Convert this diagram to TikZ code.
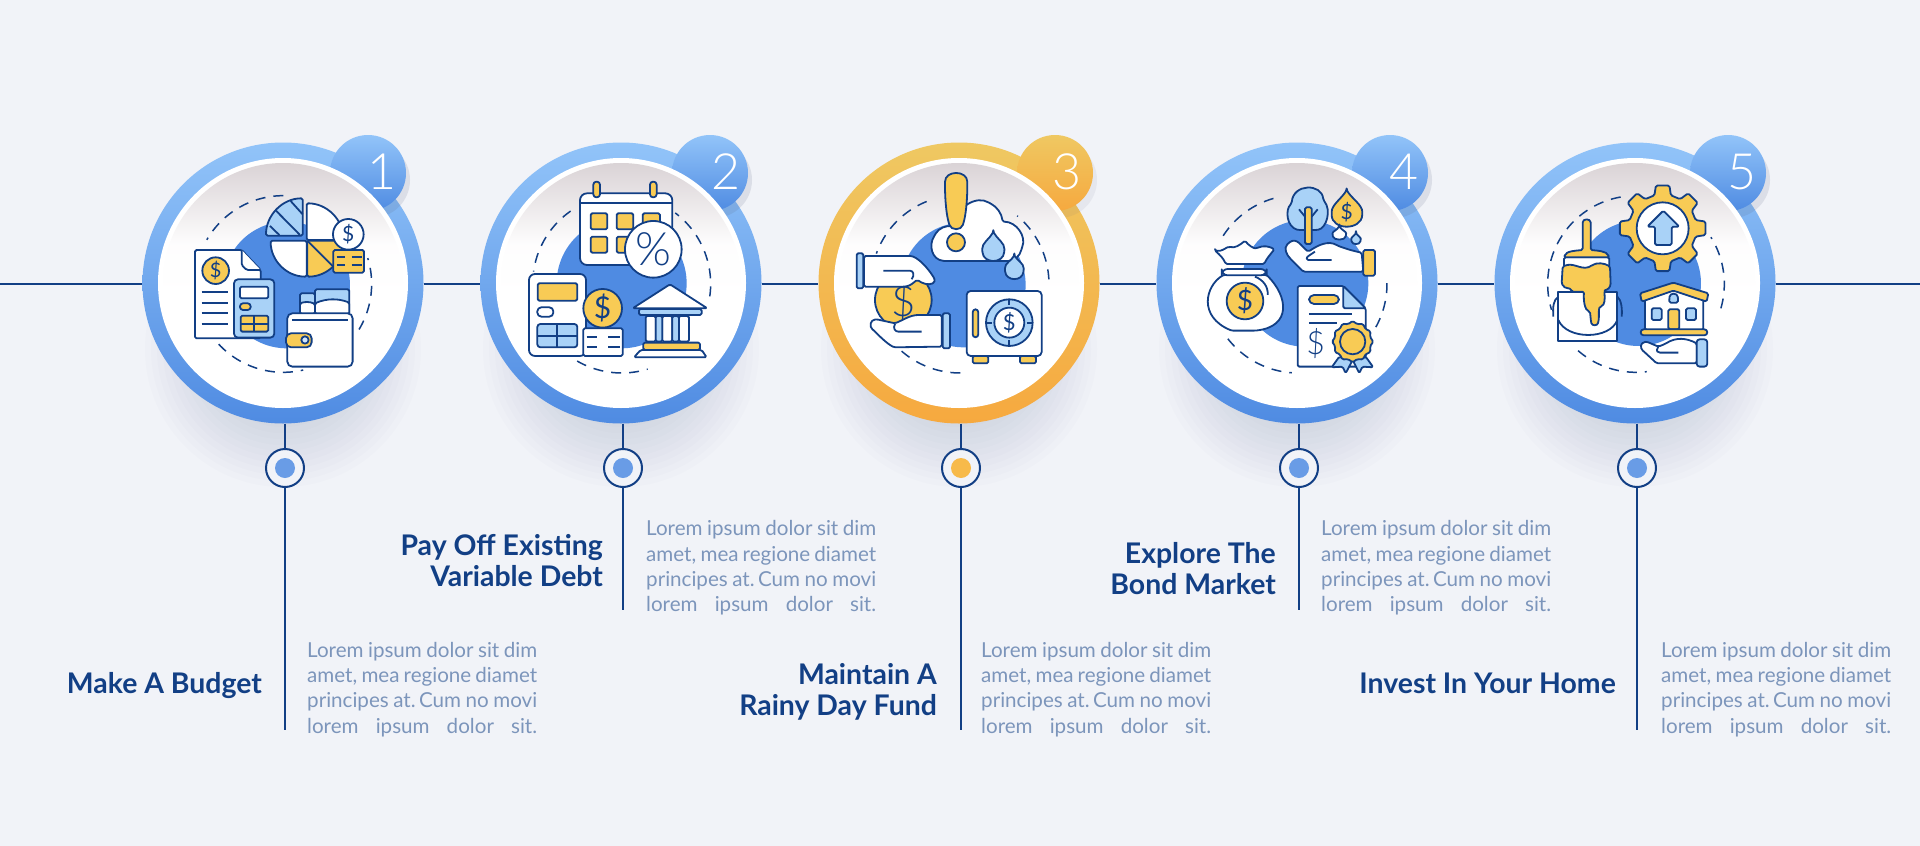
\documentclass[tikz,border=0pt]{standalone}
\usepackage{fontspec}
\setmainfont{Lato}
\newfontfamily\thinfont{Lato Light}
\usetikzlibrary{positioning}
\definecolor{pagebg}{HTML}{F1F3F8}
\definecolor{navy}{HTML}{123F85}
\definecolor{bluetop}{HTML}{92C4F9}
\definecolor{bluebot}{HTML}{4F8BE2}
\definecolor{goldtop}{HTML}{EFC862}
\definecolor{goldbot}{HTML}{F6A93F}
\definecolor{discgrey}{HTML}{DAD3D6}
\definecolor{icoyellow}{HTML}{F8CB55}
\definecolor{icoblue}{HTML}{A9D2F7}
\definecolor{parablue}{HTML}{7C95BB}
\definecolor{shadowgrey}{HTML}{5A6580}
\pgfdeclareverticalshading{discshade}{100bp}{color(0bp)=(white); color(25bp)=(white); color(46bp)=(white); color(58bp)=(white!96!discgrey); color(75bp)=(discgrey); color(100bp)=(discgrey)}
\tikzset{
    x=1pt, y=-1pt,
    node distance=338pt, % distance between the rings
    ringblue/.style={circle, inner sep=0pt, minimum size=281pt, top color=bluetop, bottom color=bluebot},
    ringgold/.style={circle, inner sep=0pt, minimum size=281pt, top color=goldtop, bottom color=goldbot},
    badgeblue/.style={circle, inner sep=0pt, minimum size=76pt, top color=bluetop, bottom color=bluebot},
    badgegold/.style={circle, inner sep=0pt, minimum size=76pt, top color=goldtop, bottom color=goldbot},
    discwhite/.style={circle, inner sep=0pt, minimum size=250pt, fill=white},
    discinner/.style={circle, inner sep=0pt, minimum size=240pt, shading=discshade},
    digit/.style={text=white, inner sep=0pt, font=\thinfont\fontsize{50}{50}\selectfont},
    stemdot/.style={circle, inner sep=0pt, minimum size=38pt, draw=navy, line width=2pt, fill=pagebg, xshift=2pt},
    stemline/.style={draw=navy, line width=2pt},
    headbox/.style={anchor=east, align=right, inner sep=0pt, text=navy, font=\bfseries\fontsize{28.4}{31}\selectfont},
    parabox/.style={anchor=west, align=left, inner sep=0pt, text=parablue, font=\fontsize{20.6}{25.3}\selectfont},
    zoomed/.style={shift={#1}, x=.3333pt, y=-.3333pt, draw=navy, line width=1.8pt, line join=round, rounded corners=1.5pt},
    dashring/.style={draw=navy, line width=1.5pt, dash pattern=on 10pt off 8pt, rounded corners=0pt},
    dollarmark/.style={text=navy, inner sep=0pt},
    yellowpart/.style={fill=icoyellow},
    bluepart/.style={fill=icoblue},
    whitepart/.style={fill=white},
}
\newcommand{\lorempara}{%
    \frenchspacing
    \makebox[230pt][s]{Lorem ipsum dolor sit dim}\\
    \makebox[230pt][s]{amet, mea regione diamet}\\
    \makebox[230pt][s]{principes at.\kern-1.2pt\ Cum no movi}\\
    \makebox[230pt][s]{lorem ipsum dolor sit.}}
\newcommand{\ringshadow}[1]{%
    \foreach \r in {78,84,...,138} {\fill[shadowgrey, opacity=.014] (#1) ++(0,66) circle (\r);}}
\newcommand{\dasharc}[5]{\draw[dashring] plot[domain=#4:#5, samples=40] ({#1+#3*cos(\x)},{#2-#3*sin(\x)});}
\newcommand{\coinmark}[5]{%
    \draw[fill=#4] (#2) circle (#3);
    \node[dollarmark, font=\fontsize{#5}{#5}\selectfont] (#1) at (#2) {\$};}
\begin{document}
\begin{tikzpicture}
    \useasboundingbox (0,0) rectangle (1920,846);
    \fill[pagebg] (0,0) rectangle (1920,846);

    \coordinate (c1) at (283,283);
    \coordinate[right of=c1] (c2);
    \coordinate[right of=c2] (c3);
    \coordinate[right of=c3] (c4);
    \coordinate[right of=c4] (c5);
    \coordinate (lineL) at (0,284);
    \coordinate (lineR) at (1920,284);
    \ringshadow{c1} \ringshadow{c2} \ringshadow{c3} \ringshadow{c4} \ringshadow{c5}

    \node[ringblue] (ring1) at (c1) {};
    \node[ringblue] (ring2) at (c2) {};
    \node[ringgold] (ring3) at (c3) {};
    \node[ringblue] (ring4) at (c4) {};
    \node[ringblue] (ring5) at (c5) {};

    \fill[shadowgrey, opacity=.14] (372,180) circle (38);
    \fill[shadowgrey, opacity=.14] (714,180) circle (38);
    \fill[shadowgrey, opacity=.08] (1059,180) circle (38);
    \fill[shadowgrey, opacity=.14] (1394,180) circle (38);
    \fill[shadowgrey, opacity=.14] (1732,180) circle (38);
    \node[badgeblue] (badge1) at (368,173) {};
    \node[badgeblue] (badge2) at (710,173) {};
    \node[badgegold] (badge3) at (1055,173) {};
    \node[badgeblue] (badge4) at (1390,173) {};
    \node[badgeblue] (badge5) at (1728,173) {};

    \node[discwhite] (disc1) at (c1) {};
    \node[discwhite] (disc2) at (c2) {};
    \node[discwhite] (disc3) at (c3) {};
    \node[discwhite] (disc4) at (c4) {};
    \node[discwhite] (disc5) at (c5) {};
    \node[discinner] (inner1) at (c1) {};
    \node[discinner] (inner2) at (c2) {};
    \node[discinner] (inner3) at (c3) {};
    \node[discinner] (inner4) at (c4) {};
    \node[discinner] (inner5) at (c5) {};

    \node[digit] (num1) at (382,172) {1};
    \node[digit] (num2) at (726,172) {2};
    \node[digit] (num3) at (1067,172) {3};
    \node[digit] (num4) at (1404,172) {4};
    \node[digit] (num5) at (1742,172) {5};

    \draw[stemline] (lineL) -- (ring1.west |- lineL);
    \draw[stemline] (ring1.east |- lineL) -- (ring2.west |- lineL);
    \draw[stemline] (ring2.east |- lineL) -- (ring3.west |- lineL);
    \draw[stemline] (ring3.east |- lineL) -- (ring4.west |- lineL);
    \draw[stemline] (ring4.east |- lineL) -- (ring5.west |- lineL);
    \draw[stemline] (ring5.east |- lineL) -- (lineR);

    \node[stemdot, below of=c1, node distance=185pt] (dot1) {};
    \node[stemdot, below of=c2, node distance=185pt] (dot2) {};
    \node[stemdot, below of=c3, node distance=185pt] (dot3) {};
    \node[stemdot, below of=c4, node distance=185pt] (dot4) {};
    \node[stemdot, below of=c5, node distance=185pt] (dot5) {};
    \fill[bluebot!85!white] (dot1) circle (10);
    \fill[bluebot!85!white] (dot2) circle (10);
    \fill[goldbot!50!icoyellow] (dot3) circle (10);
    \fill[bluebot!85!white] (dot4) circle (10);
    \fill[bluebot!85!white] (dot5) circle (10);
    \coordinate[below of=dot1, node distance=262pt] (end1);
    \coordinate[below of=dot2, node distance=142pt] (end2);
    \coordinate[below of=dot3, node distance=262pt] (end3);
    \coordinate[below of=dot4, node distance=142pt] (end4);
    \coordinate[below of=dot5, node distance=262pt] (end5);
    \draw[stemline] (dot1.north |- ring1.south) -- (dot1.north) (dot1.south) -- (end1);
    \draw[stemline] (dot2.north |- ring2.south) -- (dot2.north) (dot2.south) -- (end2);
    \draw[stemline] (dot3.north |- ring3.south) -- (dot3.north) (dot3.south) -- (end3);
    \draw[stemline] (dot4.north |- ring4.south) -- (dot4.north) (dot4.south) -- (end4);
    \draw[stemline] (dot5.north |- ring5.south) -- (dot5.north) (dot5.south) -- (end5);

    \node[headbox] (title1) at (262,686) {Make A Budget};
    \node[headbox] (title2) at (603,561) {Pay Off Existing\\Variable Debt};
    \node[headbox] (title3) at (937,692) {Maintain A\\Rainy Day Fund};
    \node[headbox] (title4) at (1276,569) {Explore The\\Bond Market};
    \node[headbox] (title5) at (1616,683) {Invest In Your Home};
    \node[parabox] (text1) at (307,689.5) {\lorempara};
    \node[parabox] (text2) at (646,568) {\lorempara};
    \node[parabox] (text3) at (981,689.5) {\lorempara};
    \node[parabox] (text4) at (1321,568) {\lorempara};
    \node[parabox] (text5) at (1661,689.5) {\lorempara};

    % budget
    \begin{scope}[zoomed={(120,120)}]
        \fill[bluebot] (500,495) circle (190);
        \dasharc{490}{492}{265}{90}{150}
        \dasharc{490}{492}{265}{223}{283}
        \dasharc{490}{492}{265}{329}{377}
        \draw[whitepart] (560,250) .. controls (621,250) and (670,299) .. (670,360) -- (560,360) -- cycle;
        \draw[whitepart] (452,362) .. controls (452,422) and (500,470) .. (560,470) -- (560,362) -- cycle;
        \draw[yellowpart] (562,362) -- (672,362) .. controls (672,422) and (622,470) .. (562,470) -- cycle;
        \draw (565,365) -- (640,440);
        \draw[bluepart] (438,347) .. controls (438,286) and (487,235) .. (548,235) -- (548,347) -- cycle;
        \draw (450,318) -- (478,345) (468,272) -- (540,345) (512,243) -- (548,283);
        \coinmark{usd1a}{685,343}{46}{white}{21}
        \draw[yellowpart] (640,390) rectangle (732,458);
        \draw (650,412) -- (675,412) (695,412) -- (725,412) (650,436) -- (675,436) (695,436) -- (725,436);
        \draw[whitepart] (225,390) -- (365,390) -- (422,450) -- (422,655) -- (225,655) -- cycle;
        \draw[whitepart] (365,390) -- (365,435) -- (380,450) -- (422,450);
        \coinmark{usd1b}{287,452}{40}{icoyellow}{20}
        \draw (245,515) -- (325,515) (245,548) -- (325,548) (245,580) -- (325,580) (245,613) -- (325,613);
        \draw[bluepart, rounded corners=4pt] (342,478) rectangle (463,653);
        \draw[whitepart] (360,500) rectangle (445,535);
        \draw[yellowpart, rounded corners=3pt] (360,550) rectangle (392,570);
        \draw[yellowpart] (362,587) rectangle (445,635);
        \draw (403,587) -- (403,635) (362,611) -- (445,611);
        \draw[bluepart] (540,520) rectangle (585,582);
        \draw[whitepart] (540,550) .. controls (555,545) and (570,545) .. (585,552) -- (585,582) -- (540,582) -- cycle;
        \draw[bluepart] (585,508) rectangle (688,582);
        \draw[whitepart] (585,550) .. controls (620,535) and (655,535) .. (688,548) -- (688,582) -- (585,582) -- cycle;
        \draw[whitepart, rounded corners=5pt] (502,580) rectangle (698,740);
        \draw (517,601) -- (683,601);
        \draw[yellowpart, rounded corners=5pt] (498,640) rectangle (575,682);
        \draw[fill=icoblue!50!white] (555,660) circle (11);
    \end{scope}

    % debt
    \begin{scope}[zoomed={(480,120)}]
        \fill[bluebot] (425,490) circle (195);
        \dasharc{425}{492}{267}{125}{172}
        \dasharc{425}{492}{267}{240}{287}
        \dasharc{425}{492}{267}{-8}{53}
        \draw[whitepart, rounded corners=7pt] (300,220) rectangle (577,435);
        \draw[yellowpart, rounded corners=3pt] (340,185) rectangle (360,232);
        \draw[yellowpart, rounded corners=3pt] (510,185) rectangle (530,232);
        \draw (300,250) -- (577,250);
        \draw[yellowpart] (332,280) rectangle (382,328);
        \draw[yellowpart] (410,280) rectangle (460,328);
        \draw[yellowpart] (488,280) rectangle (540,328);
        \draw[yellowpart] (332,350) rectangle (382,398);
        \draw[yellowpart] (410,350) rectangle (460,398);
        \draw[whitepart] (520,388) circle (85);
        \node[dollarmark, font=\thinfont\fontsize{46}{46}\selectfont] (pct2) at (520,388) {\%};
        \draw[whitepart, rounded corners=6pt] (147,462) rectangle (318,708);
        \draw[yellowpart] (173,490) rectangle (292,542);
        \draw[whitepart, rounded corners=4pt] (172,562) rectangle (220,590);
        \draw[bluepart, rounded corners=3pt] (172,612) rectangle (292,682);
        \draw (232,612) -- (232,682) (172,648) -- (292,648);
        \draw[whitepart] (310,625) rectangle (428,708);
        \draw (320,652) -- (352,652) (385,652) -- (420,652) (320,680) -- (352,680) (385,680) -- (420,680);
        \coinmark{usd2}{368,565}{58}{icoyellow}{30}
        \draw[whitepart] (570,493) -- (682,565) -- (458,565) -- cycle;
        \draw[bluepart] (477,567) rectangle (665,585);
        \draw[whitepart] (497,588) rectangle (527,665);
        \draw[whitepart] (547,588) rectangle (577,665);
        \draw[whitepart] (597,588) rectangle (627,665);
        \draw[bluepart] (527,588) rectangle (547,665);
        \draw[bluepart] (577,588) rectangle (597,665);
        \draw[yellowpart] (490,668) rectangle (660,690);
        \draw[whitepart] (482,690) -- (665,690) -- (680,712) -- (462,712) -- cycle;
    \end{scope}

    % rainy day
    \begin{scope}[zoomed={(820,120)}]
        \fill[bluebot] (430,495) circle (187);
        \dasharc{420}{492}{267}{112}{160}
        \dasharc{420}{492}{267}{229}{275}
        \dasharc{420}{492}{267}{3}{50}
        \draw[whitepart] (470,423) -- (375,423) .. controls (335,420) and (325,375) .. (345,345) .. controls (355,325) and (380,315) .. (400,320) .. controls (410,260) and (470,225) .. (510,250) .. controls (530,260) and (545,280) .. (548,305) .. controls (590,305) and (620,350) .. (605,385) .. controls (600,410) and (580,423) .. (560,423) -- cycle;
        \draw[yellowpart] (375,190) .. controls (375,150) and (442,150) .. (442,190) .. controls (442,250) and (436,290) .. (430,310) .. controls (424,332) and (393,332) .. (387,310) .. controls (381,290) and (375,250) .. (375,190) -- cycle;
        \draw[yellowpart] (408,367) circle (27);
        \draw[bluepart] (520,335) .. controls (530,355) and (555,370) .. (553,392) .. controls (550,432) and (490,432) .. (487,392) .. controls (485,370) and (510,355) .. (520,335) -- cycle;
        \draw[bluepart] (583,405) .. controls (590,420) and (612,430) .. (611,450) .. controls (608,485) and (558,485) .. (555,450) .. controls (554,430) and (576,420) .. (583,405) -- cycle;
        \draw[fill=icoyellow] (250,540) circle (85);
        \node[dollarmark, font=\thinfont\fontsize{42}{42}\selectfont] (usd3a) at (250,545) {\$};
        \draw[bluepart] (110,400) -- (130,400) -- (130,505) -- (110,505) -- cycle;
        \draw[whitepart] (132,408) -- (275,408) .. controls (305,420) and (335,460) .. (345,480) .. controls (340,495) and (318,495) .. (300,485) .. controls (285,475) and (280,500) .. (245,500) -- (132,500) -- cycle;
        \draw (190,452) -- (265,452) .. controls (280,452) and (285,465) .. (275,478);
        \draw[bluepart] (368,580) -- (390,580) -- (390,685) -- (368,685) -- cycle;
        \draw[whitepart] (365,585) -- (300,585) .. controls (270,585) and (250,600) .. (225,610) -- (170,598) .. controls (150,600) and (148,620) .. (160,630) .. controls (180,650) and (200,670) .. (222,682) -- (365,680) -- cycle;
        \draw (225,612) .. controls (218,625) and (225,635) .. (240,635) -- (305,635);
        \draw[yellowpart] (458,708) rectangle (505,730);
        \draw[yellowpart] (600,708) rectangle (648,730);
        \draw[whitepart, rounded corners=4pt] (440,513) rectangle (665,708);
        \draw[yellowpart, rounded corners=3pt] (458,568) rectangle (475,652);
        \draw[bluepart] (568,608) circle (70);
        \draw (568,538) -- (568,555) (568,661) -- (568,678) (498,608) -- (515,608) (621,608) -- (638,608);
        \coinmark{usd3b}{568,608}{45}{white}{22}
    \end{scope}

    % bond market
    \begin{scope}[zoomed={(1155,120)}]
        \fill[bluebot] (450,490) circle (190);
        \dasharc{429}{492}{267}{106}{152}
        \dasharc{429}{492}{267}{218}{266}
        \dasharc{429}{492}{267}{-29}{5}
        \draw[bluepart] (430,330) .. controls (395,320) and (390,270) .. (410,250) .. controls (415,190) and (500,190) .. (505,240) .. controls (530,270) and (515,325) .. (485,330) -- cycle;
        \draw (470,290) -- (488,268) (450,290) -- (432,268);
        \draw[yellowpart] (450,262) rectangle (470,372);
        \draw[yellowpart] (575,210) .. controls (590,235) and (622,255) .. (622,280) .. controls (620,332) and (530,332) .. (530,280) .. controls (530,255) and (560,235) .. (575,210) -- cycle;
        \node[dollarmark, font=\fontsize{21}{21}\selectfont] (usd4a) at (575,275) {\$};
        \draw[whitepart] (553,318) .. controls (560,330) and (574,335) .. (573,345) .. controls (570,362) and (536,362) .. (533,345) .. controls (532,335) and (546,330) .. (553,318) -- cycle;
        \draw[bluepart] (603,338) .. controls (608,348) and (618,352) .. (617,360) .. controls (614,375) and (592,375) .. (589,360) .. controls (588,352) and (598,348) .. (603,338) -- cycle;
        \draw[whitepart] (620,398) .. controls (590,392) and (570,385) .. (550,378) .. controls (520,360) and (490,375) .. (460,395) .. controls (440,380) and (425,350) .. (400,370) .. controls (385,385) and (395,405) .. (410,420) -- (445,455) -- (625,455) -- cycle;
        \draw (480,395) .. controls (465,405) and (455,410) .. (455,420) -- (530,420);
        \draw[yellowpart] (625,390) rectangle (660,467);
        \draw[whitepart] (205,465) .. controls (150,500) and (130,590) .. (230,632) -- (300,632) .. controls (410,620) and (400,530) .. (335,465) -- cycle;
        \draw[whitepart] (180,392) .. controls (200,395) and (210,385) .. (222,380) .. controls (240,385) and (255,375) .. (270,362) .. controls (280,375) and (295,385) .. (305,385) .. controls (325,375) and (345,380) .. (358,388) .. controls (345,405) and (335,415) .. (328,432) -- (212,432) .. controls (205,415) and (195,405) .. (180,392) -- cycle;
        \draw[whitepart, rounded corners=6pt] (200,447) rectangle (335,466);
        \draw (300,470) .. controls (325,480) and (340,500) .. (338,525);
        \coinmark{usd4b}{270,543}{55}{icoyellow}{28}
        \draw[whitepart] (428,498) -- (565,498) -- (632,565) -- (632,740) -- (428,740) -- cycle;
        \draw[bluepart] (565,498) -- (632,565) -- (565,565) -- cycle;
        \draw[yellowpart, rounded corners=5pt] (462,525) rectangle (552,552);
        \draw (462,582) -- (592,582) (462,608) -- (547,608);
        \node[dollarmark, font=\thinfont\fontsize{32}{32}\selectfont] (usd4c) at (482,672) {\$};
        \draw[bluepart] (553,710) -- (530,742) -- (563,740) -- (572,760) -- (593,720) -- cycle;
        \draw[bluepart] (632,710) -- (655,742) -- (622,740) -- (613,760) -- (593,720) -- cycle;
        \begin{scope}[shift={(593,665)}]
            \draw[yellowpart] (0:62) foreach \a in {30,60,...,330} { -- (\a-15:54) -- (\a:62) } -- (345:54) -- cycle;
            \draw[yellowpart] (0,0) circle (38);
        \end{scope}
    \end{scope}

    % home
    \begin{scope}[zoomed={(1490,120)}]
        \fill[bluebot] (445,490) circle (188);
        \dasharc{438}{492}{265}{100}{197}
        \dasharc{438}{492}{265}{229}{277}
        \dasharc{438}{492}{265}{-16}{32}
        \begin{scope}[shift={(518,325)}]
            \draw[yellowpart] (-14:102) -- (-9:130) -- (9:130) -- (14:102) foreach \a in {45,90,...,315} { -- (\a-14:102) -- (\a-9:130) -- (\a+9:130) -- (\a+14:102) } -- cycle;
            \draw[whitepart] (0,0) circle (78);
        \end{scope}
        \draw[bluepart] (520,272) -- (568,320) -- (545,320) -- (545,375) -- (495,375) -- (495,320) -- (472,320) -- cycle;
        \draw (190,590) .. controls (188,560) and (190,540) .. (205,530) (382,530) .. controls (395,540) and (397,570) .. (395,590);
        \draw[whitepart, rounded corners=0pt] (205,515) -- (382,515) -- (382,662) -- (205,662) -- cycle;
        \draw (205,600) .. controls (230,660) and (360,660) .. (382,600);
        \draw[whitepart] (222,412) rectangle (358,470);
        \draw[yellowpart] (278,390) -- (278,312) .. controls (278,295) and (302,295) .. (302,312) -- (302,390) .. controls (320,392) and (350,392) .. (358,412) -- (222,412) .. controls (228,392) and (260,392) .. (278,390) -- cycle;
        \draw[yellowpart] (218,440) .. controls (250,425) and (270,450) .. (300,440) .. controls (320,425) and (345,430) .. (360,440) -- (362,495) .. controls (355,510) and (345,510) .. (343,515) .. controls (345,535) and (345,555) .. (330,560) .. controls (325,570) and (328,590) .. (325,605) .. controls (322,618) and (306,618) .. (303,605) -- (300,575) .. controls (285,570) and (280,545) .. (282,515) -- (245,515) .. controls (240,500) and (225,510) .. (215,490) -- cycle;
        \draw[whitepart] (465,520) -- (550,495) -- (640,520) -- (640,630) -- (465,630) -- cycle;
        \draw[yellowpart] (450,520) -- (550,488) -- (655,520) -- (650,545) -- (550,512) -- (455,545) -- cycle;
        \draw[bluepart] (485,565) rectangle (515,600);
        \draw[bluepart] (588,565) rectangle (618,600);
        \draw[yellowpart] (535,568) rectangle (568,628);
        \draw[bluepart] (538,548) -- (538,535) .. controls (540,518) and (562,518) .. (564,535) -- (564,548) -- cycle;
        \draw[yellowpart, rounded corners=3pt] (452,628) rectangle (652,646);
        \draw[whitepart] (620,670) .. controls (590,655) and (560,650) .. (525,672) -- (505,680) -- (470,665) .. controls (450,668) and (450,685) .. (462,695) -- (500,730) -- (620,730) -- cycle;
        \draw (505,680) .. controls (495,695) and (505,698) .. (515,698) -- (565,698);
        \draw[bluepart, rounded corners=3pt] (620,658) rectangle (652,740);
    \end{scope}
\end{tikzpicture}
\end{document}
